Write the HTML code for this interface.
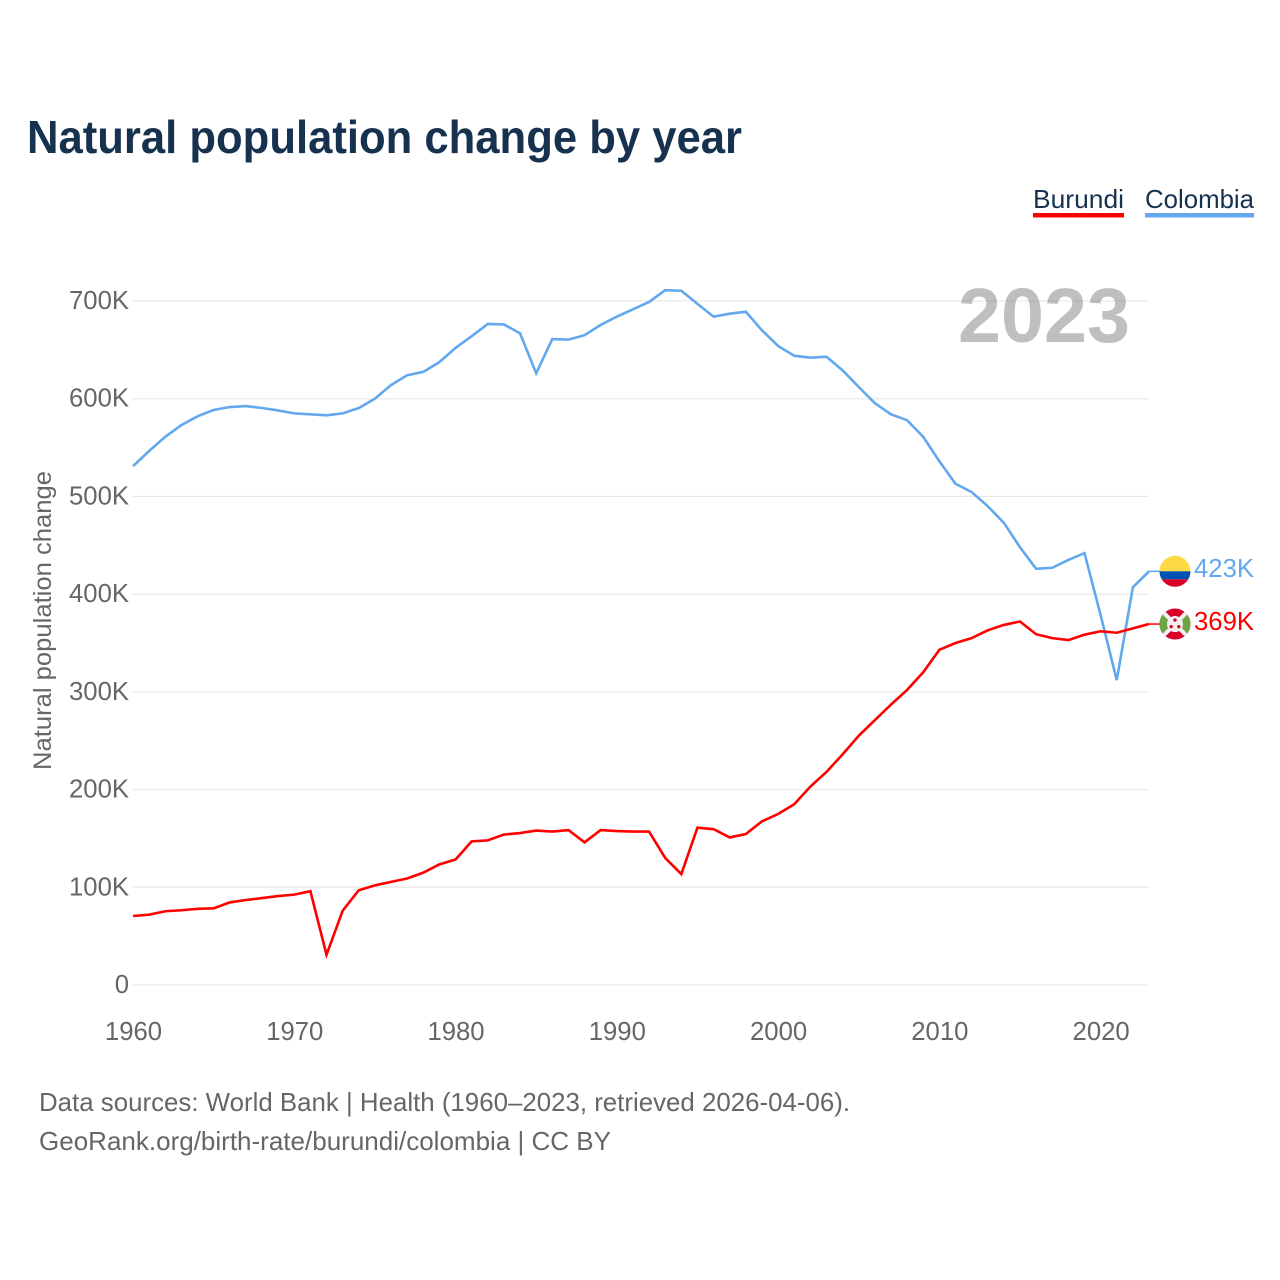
<!DOCTYPE html>
<html lang="en">
<head>
<meta charset="utf-8">
<title>Natural population change by year</title>
<style>
  html, body { margin: 0; padding: 0; background: #fff; }
  svg { display: block; }
  text { font-family: "Liberation Sans", sans-serif; }
</style>
</head>
<body>
<svg id="chart" xmlns="http://www.w3.org/2000/svg" width="1280" height="1280" viewBox="0 0 1280 1280">
  <defs>
    <clipPath id="flag-clip"><circle cx="0" cy="0" r="15.5"></circle></clipPath>
  </defs>
  <rect x="0" y="0" width="1280" height="1280" fill="#ffffff"></rect>
  <text x="27" y="153" font-size="46" font-weight="700" fill="#17324f" textLength="715" lengthAdjust="spacingAndGlyphs">Natural population change by year</text>

  <g>
    <text x="1033" y="208" font-size="26" fill="#17324f" textLength="91" lengthAdjust="spacingAndGlyphs">Burundi</text>
    <rect x="1033" y="213" width="91" height="4.5" fill="#ff0000"></rect>
  </g>
  <g>
    <text x="1145" y="208" font-size="26" fill="#17324f" textLength="109" lengthAdjust="spacingAndGlyphs">Colombia</text>
    <rect x="1145" y="213" width="109" height="4.5" fill="#62a8ee"></rect>
  </g>

  <g id="grid"></g>
  <text x="1130" y="342" text-anchor="end" font-size="77" font-weight="700" fill="#808080" fill-opacity="0.5" textLength="172" lengthAdjust="spacingAndGlyphs">2023</text>
  <g id="y-ticks"></g>
  <g id="x-ticks"></g>
  <text transform="translate(51 620.5) rotate(-90)" text-anchor="middle" font-size="25" fill="#666666" textLength="299" lengthAdjust="spacingAndGlyphs">Natural population change</text>

  <polyline id="line-colombia" fill="none" stroke="#62a8ee" stroke-width="2.6" stroke-linejoin="miter"></polyline>
  <polyline id="line-burundi" fill="none" stroke="#ff0000" stroke-width="2.6" stroke-linejoin="miter"></polyline>
  <line id="leader-colombia" stroke="#62a8ee" stroke-width="1.5"></line>
  <line id="leader-burundi" stroke="#ff0000" stroke-width="1.5"></line>

  <g id="flag-colombia">
    <g clip-path="url(#flag-clip)">
      <rect x="-16" y="-16" width="32" height="16" fill="#ffda44"></rect>
      <rect x="-16" y="0" width="32" height="8" fill="#0052b4"></rect>
      <rect x="-16" y="8" width="32" height="8" fill="#d80027"></rect>
    </g>
  </g>
  <g id="flag-burundi">
    <g clip-path="url(#flag-clip)">
      <rect x="-16" y="-16" width="32" height="32" fill="#d80027"></rect>
      <polygon points="-16,-12 0,0 -16,12" fill="#6da544"></polygon>
      <polygon points="16,-12 0,0 16,12" fill="#6da544"></polygon>
      <line x1="-13" y1="-13" x2="13" y2="13" stroke="#f0f0f0" stroke-width="4"></line>
      <line x1="13" y1="-13" x2="-13" y2="13" stroke="#f0f0f0" stroke-width="4"></line>
      <circle cx="0" cy="0" r="8" fill="#f0f0f0"></circle>
      <circle cx="0" cy="-4" r="1.7" fill="#d80027"></circle>
      <circle cx="-3.8" cy="2.6" r="1.7" fill="#d80027"></circle>
      <circle cx="3.8" cy="2.6" r="1.7" fill="#d80027"></circle>
    </g>
  </g>
  <text id="value-colombia" x="1254" y="577" text-anchor="end" font-size="26" fill="#62a8ee" textLength="60" lengthAdjust="spacingAndGlyphs"></text>
  <text id="value-burundi" x="1254" y="630" text-anchor="end" font-size="26" fill="#ff0000" textLength="60" lengthAdjust="spacingAndGlyphs"></text>

  <text x="39" y="1111" font-size="26" fill="#666666" textLength="811" lengthAdjust="spacingAndGlyphs">Data sources: World Bank | Health (1960–2023, retrieved 2026-04-06).</text>
  <text x="39" y="1150" font-size="26" fill="#666666" textLength="572" lengthAdjust="spacingAndGlyphs">GeoRank.org/birth-rate/burundi/colombia | CC BY</text>
</svg>
<script>
const years = [1960,1961,1962,1963,1964,1965,1966,1967,1968,1969,1970,1971,1972,1973,1974,1975,1976,1977,1978,1979,1980,1981,1982,1983,1984,1985,1986,1987,1988,1989,1990,1991,1992,1993,1994,1995,1996,1997,1998,1999,2000,2001,2002,2003,2004,2005,2006,2007,2008,2009,2010,2011,2012,2013,2014,2015,2016,2017,2018,2019,2020,2021,2022,2023];
const burundi = [70.6,72,75.5,76.5,78,78.5,84.5,87,89,91,92.5,96,31,76,97,102,105.5,109,115,123.5,128.5,147,148,154,155.5,158,157,158.5,146,158.5,157.5,157,157,130,113.5,161,159.5,151,154.5,167.5,175,185,203,218,236,255,271,287,302,320,343,350,355,363,368.5,372,359,355,353,358.5,362,360.5,365,369.4];
const colombia = [531,546.5,561,573,582,588.5,591.5,592.5,590.5,588,585,584,583,585,590.5,600,614,624,627.5,637.5,652,664,676.5,676,667,626,661,660.5,665,675.5,684,691.5,699,711,710.5,697,684,687,689,670,654,644,642,643,629,612,595.5,584,578,561,536,513,504.5,490,473,448,426,427,435,442,378.5,312,407,423.4];
const yTickValues = [0,100,200,300,400,500,600,700];
const xTickValues = [1960,1970,1980,1990,2000,2010,2020];

const NS = 'http://www.w3.org/2000/svg';
const plotLeft = 133, plotRight = 1149, plotBottom = 985, plotTop = 301;
const minYear = 1960, maxYear = 2023, maxValue = 700;
function xScale(year) { return plotLeft + (year - minYear) / (maxYear - minYear) * (plotRight - plotLeft); }
function yScale(value) { return plotBottom - value / maxValue * (plotBottom - plotTop); }
function formatValue(v) { return v === 0 ? '0' : Math.round(v) + 'K'; }

const grid = document.getElementById('grid');
const yTicks = document.getElementById('y-ticks');
yTickValues.forEach(function (v) {
  const gridLine = document.createElementNS(NS, 'line');
  
  
  gridLine.setAttribute('x1', plotLeft);
  gridLine.setAttribute('x2', plotRight);
  gridLine.setAttribute('y1', yScale(v));
  gridLine.setAttribute('y2', yScale(v));
  gridLine.setAttribute('stroke', '#e9e9e9');
  gridLine.setAttribute('stroke-width', '1.2');
  grid.appendChild(gridLine);

  const label = document.createElementNS(NS, 'text');
  
  
  label.setAttribute('x', 129);
  label.setAttribute('y', yScale(v) + 8);
  label.setAttribute('text-anchor', 'end');
  label.setAttribute('font-size', '25.7');
  label.setAttribute('fill', '#666666');
  label.textContent = formatValue(v);
  yTicks.appendChild(label);
});

const xTicks = document.getElementById('x-ticks');
xTickValues.forEach(function (year) {
  const label = document.createElementNS(NS, 'text');
  
  
  label.setAttribute('x', xScale(year) + 0.5);
  label.setAttribute('y', 1040);
  label.setAttribute('text-anchor', 'middle');
  label.setAttribute('font-size', '25.7');
  label.setAttribute('fill', '#666666');
  label.textContent = String(year);
  xTicks.appendChild(label);
});

function pointsFor(values) {
  return values.map(function (v, i) { return xScale(years[i]).toFixed(2) + ',' + yScale(v).toFixed(2); }).join(' ');
}
function drawEnd(key, values) {
  const last = values[values.length - 1];
  const endY = yScale(last);
  document.getElementById('line-' + key).setAttribute('points', pointsFor(values));
  const leader = document.getElementById('leader-' + key);
  leader.setAttribute('x1', plotRight);
  leader.setAttribute('x2', plotRight + 12);
  leader.setAttribute('y1', endY);
  leader.setAttribute('y2', endY);
  document.getElementById('flag-' + key).setAttribute('transform', 'translate(1175 ' + endY + ')');
  const valueLabel = document.getElementById('value-' + key);
  valueLabel.textContent = formatValue(last);
}
drawEnd('colombia', colombia);
drawEnd('burundi', burundi);
</script>
</body>
</html>
